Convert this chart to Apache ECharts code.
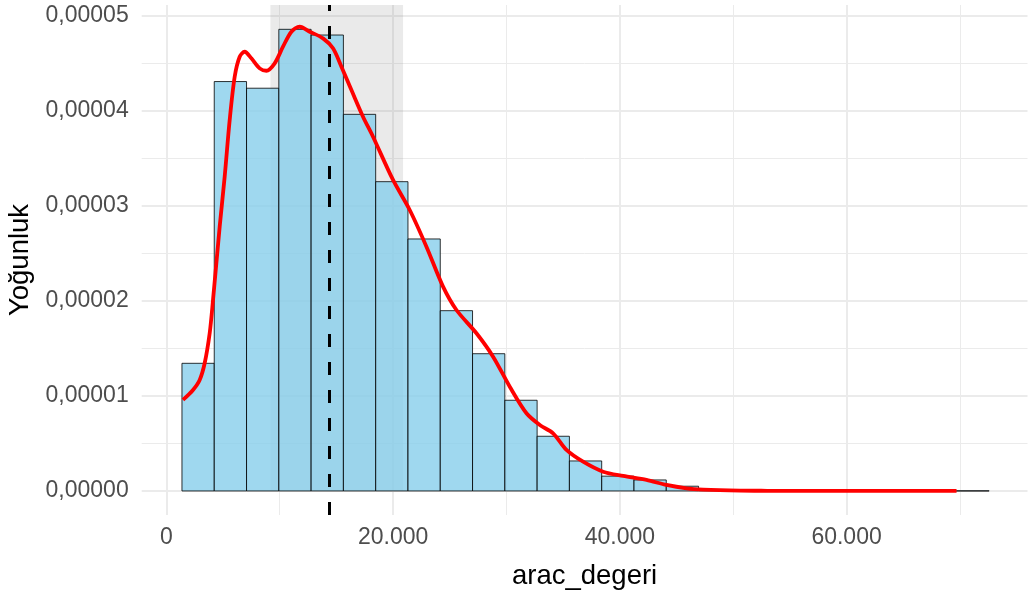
<!DOCTYPE html>
<html>
<head>
<meta charset="utf-8">
<script src="https://cdn.jsdelivr.net/npm/echarts@6/dist/echarts.min.js"></script>
<style>
html,body{margin:0;padding:0;background:#fff;}
#chart{width:1031px;height:590px;}
</style>
</head>
<body>
<div id="chart"></div>
<script>
// histogram bins (edges) and densities
var binEdges = [1376, 4224, 7072, 9920, 12768, 15616, 18464, 21312, 24160, 27008, 29856, 32704, 35552,
	38400, 41248, 44096, 46944, 49792, 52640, 55488, 58336, 61184, 64032, 66880, 69728, 72576];
var binDensity = [1.344e-5, 4.31e-5, 4.24e-5, 4.86e-5, 4.80e-5, 3.965e-5, 3.256e-5, 2.653e-5, 1.898e-5,
	1.445e-5, 0.955e-5, 0.576e-5, 0.316e-5, 0.156e-5, 0.116e-5, 0.05e-5, 0.012e-5, 0.008e-5, 0.004e-5,
	0.002e-5, 0.001e-5, 0.001e-5, 0.001e-5, 0, 0.001e-5];

// density curve
var densX = [1465, 2350, 2938, 3383, 3824, 4115, 4703, 5144, 5586, 6027, 6468, 6909, 7500, 8232, 8824,
	9556, 10289, 11030, 11762, 12645, 13818, 14700, 15442, 16324, 17348, 18230, 19995, 21468, 22942,
	24407, 25589, 27354, 28819, 30292, 31766, 32939, 34113, 35295, 36760, 38525, 40290, 42354, 44119,
	45884, 47349, 50600, 53000, 56000, 60000, 65000, 69700];
var densY = [0.958e-5, 1.063e-5, 1.168e-5, 1.347e-5, 1.663e-5, 2.01e-5, 2.782e-5, 3.308e-5, 3.905e-5,
	4.361e-5, 4.572e-5, 4.624e-5, 4.555e-5, 4.449e-5, 4.424e-5, 4.502e-5, 4.677e-5, 4.835e-5, 4.887e-5,
	4.835e-5, 4.765e-5, 4.660e-5, 4.466e-5, 4.221e-5, 3.940e-5, 3.729e-5, 3.274e-5, 2.958e-5, 2.572e-5,
	2.151e-5, 1.905e-5, 1.660e-5, 1.414e-5, 1.098e-5, 0.818e-5, 0.695e-5, 0.607e-5, 0.432e-5, 0.308e-5,
	0.203e-5, 0.158e-5, 0.116e-5, 0.063e-5, 0.028e-5, 0.015e-5, 0.004e-5, 0.002e-5, 0.001e-5, 0, 0, 0];

// reference line and shaded band
var meanValue = 14410;
var bandRange = [9177, 20877];

// ticks
var xTicks = [0, 20000, 40000, 60000];
var xMinor = [10000, 30000, 50000, 70000];
var yTicks = [0, 1e-5, 2e-5, 3e-5, 4e-5, 5e-5];
var yMinor = [0.5e-5, 1.5e-5, 2.5e-5, 3.5e-5, 4.5e-5];

var X_MIN = -2175, X_MAX = 75960;
var Y_MIN = -0.253e-5, Y_MAX = 5.116e-5;

var FONT = '"Liberation Sans", Arial, sans-serif';

var histData = [];
for (var i = 0; i < binDensity.length; i++) {
	histData.push([binEdges[i], binEdges[i + 1], binDensity[i]]);
}
var curveData = [];
for (var i = 0; i < densX.length; i++) {
	curveData.push([densX[i], densY[i]]);
}

function gridLines(vals, key, w) {
	return vals.map(function (v) {
		var o = {lineStyle: {width: w, color: '#ebebeb', type: 'solid'}};
		o[key] = v;
		return o;
	});
}

function renderBar(params, api) {
	var p0 = api.coord([api.value(0), api.value(2)]);
	var p1 = api.coord([api.value(1), 0]);
	return {
		type: 'rect',
		shape: {x: p0[0], y: p0[1], width: p1[0] - p0[0], height: p1[1] - p0[1]},
		style: {fill: 'rgba(135,206,235,0.8)', stroke: 'rgba(0,0,0,0.8)', lineWidth: 1}
	};
}

var myChart = echarts.init(document.getElementById('chart'), null, {renderer: 'canvas'});
var option = {
	animation: false,
	backgroundColor: '#fff',
	grid: {left: 141.7, right: 3.5, top: 5, bottom: 75, containLabel: false, outerBoundsMode: 'none'},
	xAxis: {
		type: 'value',
		min: X_MIN,
		max: X_MAX,
		name: 'arac_degeri',
		nameLocation: 'middle',
		nameGap: 47,
		nameTextStyle: {fontFamily: FONT, fontSize: 27.5, color: '#000'},
		axisLine: {show: false},
		axisTick: {show: false},
		splitLine: {show: false},
		axisLabel: {
			customValues: xTicks,
			margin: 11,
			fontFamily: FONT,
			fontSize: 23,
			color: '#4d4d4d',
			formatter: function (v) {
				return String(v).replace(/\B(?=(\d{3})+(?!\d))/g, '.');
			}
		}
	},
	yAxis: {
		type: 'value',
		min: Y_MIN,
		max: Y_MAX,
		name: 'Yoğunluk',
		nameLocation: 'middle',
		nameRotate: 90,
		nameGap: 103,
		nameTextStyle: {fontFamily: FONT, fontSize: 27.5, color: '#000'},
		axisLine: {show: false},
		axisTick: {show: false},
		splitLine: {show: false},
		axisLabel: {
			customValues: yTicks,
			margin: 13,
			fontFamily: FONT,
			fontSize: 23,
			color: '#4d4d4d',
			formatter: function (v) {
				return v.toFixed(5).replace('.', ',');
			}
		}
	},
	series: [
		{
			// grid lines
			type: 'line',
			z: 1,
			silent: true,
			symbol: 'none',
			data: [[0, 0]],
			lineStyle: {opacity: 0},
			markLine: {
				z: 1,
				precision: 12,
				silent: true,
				symbol: ['none', 'none'],
				label: {show: false},
				data: gridLines(xMinor, 'xAxis', 1).concat(gridLines(yMinor, 'yAxis', 1),
					gridLines(xTicks, 'xAxis', 2), gridLines(yTicks, 'yAxis', 2))
			}
		},
		{
			// shaded band
			type: 'line',
			z: 2,
			silent: true,
			symbol: 'none',
			data: [[0, 0]],
			lineStyle: {opacity: 0},
			markArea: {
				z: 2,
				silent: true,
				itemStyle: {color: 'rgba(127,127,127,0.16)'},
				data: [[{xAxis: bandRange[0], yAxis: 0}, {xAxis: bandRange[1], yAxis: Y_MAX}]]
			}
		},
		{
			type: 'custom',
			z: 3,
			renderItem: renderBar,
			encode: {x: [0, 1], y: 2},
			data: histData
		},
		{
			type: 'line',
			z: 4,
			data: curveData,
			smooth: 0.3,
			symbol: 'none',
			lineStyle: {color: '#ff0000', width: 3.8}
		},
		{
			type: 'line',
			z: 5,
			silent: true,
			symbol: 'none',
			data: [[0, 0]],
			lineStyle: {opacity: 0},
			markLine: {
				z: 10,
				silent: true,
				symbol: ['none', 'none'],
				label: {show: false},
				lineStyle: {color: '#000', width: 3, type: [13, 15]},
				data: [{xAxis: meanValue}]
			}
		}
	]
};
myChart.setOption(option);
</script>
</body>
</html>
